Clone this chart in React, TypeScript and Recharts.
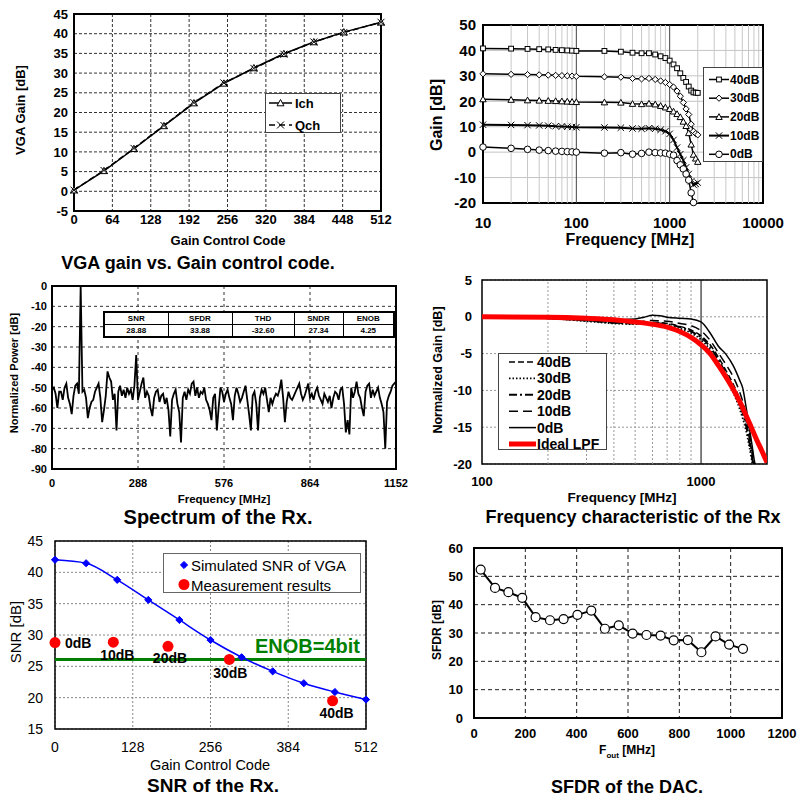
import React from 'react';
import {
  LineChart,
  Line,
  XAxis,
  YAxis,
  CartesianGrid,
  ReferenceLine,
  ReferenceArea,
} from 'recharts';

const FONT = "'Liberation Sans', Arial, Helvetica, sans-serif";

// ---------- VGA gain vs. gain control code ----------
const gainCodes = [0, 50, 100, 150, 200, 250, 300, 350, 400, 450, 512];
const ichGain = [0.3, 5.2, 10.8, 16.6, 22.4, 27.4, 31.3, 34.9, 37.9, 40.4, 42.9];
const qchGain = [0.3, 5.3, 10.9, 16.7, 22.5, 27.5, 31.2, 34.8, 37.9, 40.3, 42.9];
const codeTicks = [0, 64, 128, 192, 256, 320, 384, 448, 512];
const vgaTicks = [-5, 0, 5, 10, 15, 20, 25, 30, 35, 40, 45];

// ---------- VGA frequency response ----------
const vgaFreqs = [10, 20, 30, 40, 50, 60, 70, 80, 90, 100, 200, 300, 400, 500, 600, 700, 800, 900, 1000,
  1100, 1200, 1300, 1400, 1500, 1600, 1700, 1800, 1900, 2000];
const resp40 = [40.8, 40.7, 40.6, 40.5, 40.4, 40.2, 40.1, 40, 39.9, 39.8, 39.8, 39.5, 39.1, 38.9, 38.9, 38.4, 37.7, 37, 36,
  34.5, 33, 31, 29.2, 27.6, 25.8, 24.2, 23.5, 23.4, 23.3];
const resp30 = [30.8, 30.6, 30.5, 30.4, 30.3, 30.2, 30.1, 30, 29.9, 29.8, 29.6, 29.5, 29, 28.8, 29, 28.6, 28, 27.4, 26.6,
  25.6, 24, 22, 19.5, 17, 14.8, 11, 8.2, 7.3, 6.8];
const resp20 = [20.8, 20.6, 20.4, 20.3, 20.2, 20.1, 20, 19.9, 19.8, 19.7, 19.6, 19.5, 19, 18.9, 19.1, 18.8, 18.2, 17.6, 17,
  16, 15, 13.8, 12, 10.3, 7.5, 3, -1, -2.5, -3.8];
const resp10 = [10.8, 10.7, 10.6, 10.5, 10.4, 10.2, 10.1, 10, 9.9, 9.8, 9.7, 9.6, 9.3, 9.2, 9.4, 9.2, 8.8, 8.2, 7.2,
  4.8, 1.8, -0.8, -3.2, -6, -8.6, -11.5, -12.8, -12.5, -12];
const resp0 = [2, 1.5, 1.1, 0.8, 0.6, 0.4, 0.3, 0.2, 0.1, 0, -0.4, -0.2, -0.8, -0.5, 0, -0.2, -0.3, -0.4, -0.8,
  -1.2, -3.3, -5, -6.6, -8.6, -11, -16, -19.8];
const gainTicks = [-20, -10, 0, 10, 20, 30, 40, 50];
const decadeTicks = [10, 100, 1000, 10000];
const minorFreqs = [20, 30, 40, 50, 60, 70, 80, 90, 200, 300, 400, 500, 600, 700, 800, 900,
  2000, 3000, 4000, 5000, 6000, 7000, 8000, 9000];
const majorFreqs = [100, 1000];

// ---------- Spectrum of the Rx (6 MHz bins, 0..1152 MHz) ----------
const binStep = 6;
const spectrum = [
  -51, -50, -53, -60, -52, -52, -56, -50, -48, -55,
  -58, -63, -54, -49, -48, -53, 0, -52, -51, -55,
  -65, -60, -57, -56, -52, -50, -48, -55, -67, -61,
  -54, -42, -45, -47, -56, -53, -71, -52, -49, -54,
  -51, -55, -50, -53, -51, -56, -49, -34, -56, -52,
  -48, -45, -55, -52, -54, -60, -64, -55, -52, -51,
  -57, -54, -53, -58, -55, -61, -74, -56, -53, -51,
  -58, -62, -77, -55, -52, -56, -51, -53, -48, -47,
  -54, -50, -55, -52, -53, -50, -56, -58, -61, -66,
  -55, -53, -71, -60, -50, -52, -57, -53, -51, -55,
  -58, -66, -54, -50, -53, -57, -55, -52, -49, -56,
  -63, -71, -54, -52, -58, -71, -55, -51, -53, -50,
  -56, -62, -55, -58, -55, -53, -54, -51, -46, -55,
  -67, -57, -52, -55, -56, -54, -52, -50, -48, -53,
  -56, -54, -51, -48, -55, -53, -56, -52, -50, -54,
  -56, -58, -53, -55, -57, -54, -60, -55, -52, -53,
  -56, -51, -50, -58, -72, -66, -73, -50, -55, -52,
  -47, -53, -55, -60, -64, -52, -49, -48, -55, -51,
  -54, -52, -50, -55, -58, -62, -80, -57, -54, -52,
  -49, -48, -47,
];
const specTicksX = [0, 288, 576, 864, 1152];
const specTicksY = [-90, -80, -70, -60, -50, -40, -30, -20, -10, 0];
const metricNames = ['SNR', 'SFDR', 'THD', 'SNDR', 'ENOB'];
const metricValues = ['28.88', '33.88', '-32.60', '27.34', '4.25'];

// ---------- Frequency characteristic of the Rx ----------
const lpfFreqs = [100, 200, 300, 400, 500, 600, 700, 800, 900, 1000, 1100, 1200, 1300, 1400, 1500, 1600, 1700, 1800, 1900, 2000];
const idealLpf = [0, -0.05, -0.2, -0.4, -0.7, -1.0, -1.4, -2.0, -2.8, -3.8, -5.0, -6.6, -8.2, -9.8, -11.5, -13.3, -15.1, -16.8, -18.3, -19.8];
const rxFreqs = [100, 200, 300, 400, 500, 550, 600, 650, 700, 800, 900, 1000, 1100, 1200, 1300, 1400, 1500, 1550, 1600, 1650, 1700, 1750, 1800];
const rx40 = [0, -0.2, -0.5, -0.8, -0.9, -0.85, -0.75, -0.8, -0.9, -1.3, -1.8, -2.6, -3.8, -5.5, -7.3, -9.1, -11.2, -12.5, -14, -16, -18.2, -20.5, -23];
const rx30 = [0, -0.2, -0.6, -0.9, -1.0, -1.0, -1.0, -1.1, -1.2, -1.6, -2.2, -3.1, -4.5, -6.3, -8.2, -10.2, -12.5, -13.8, -15.3, -17.2, -19.3, -21.5, -24];
const rx20 = [0, -0.2, -0.5, -0.8, -0.9, -0.9, -0.85, -0.9, -1.0, -1.4, -2.0, -2.8, -4.1, -5.9, -7.7, -9.6, -11.8, -13.1, -14.6, -16.5, -18.7, -21, -23.5];
const rx10 = [0, -0.2, -0.5, -0.7, -0.7, -0.6, -0.5, -0.55, -0.6, -0.9, -1.2, -1.9, -3.2, -4.9, -6.5, -8.1, -10.2, -11.5, -13.2, -15.3, -17.5, -19.8, -22];
const rx0 = [0, -0.15, -0.35, -0.4, -0.3, -0.05, 0.2, 0.15, -0.05, -0.2, -0.3, -0.7, -2.2, -4.0, -5.1, -6.6, -8.6, -9.7, -12, -14.5, -17, -19.5, -21];
const normTicks = [-20, -15, -10, -5, 0, 5];
const rxTicksX = [100, 1000];
const rxMinor = [200, 300, 400, 500, 600, 700, 800, 900];

// ---------- SNR of the Rx ----------
const snrCodes = [0, 51.2, 102.4, 153.6, 204.8, 256, 307.2, 358.4, 409.6, 460.8, 512];
const snrSim = [42.0, 41.45, 38.8, 35.6, 32.4, 29.2, 26.45, 24.2, 22.3, 20.9, 19.7];
const measCodes = [0, 96, 186, 287, 457];
const measSnr = [28.8, 28.85, 28.2, 26.1, 19.5];
const measLabels = ['0dB', '10dB', '20dB', '30dB', '40dB'];
const measLabelOffsets = [[10, 0], [4, 13], [2, 12], [1, 14], [4, 12]];
const measLabelAnchors = ['start', 'middle', 'middle', 'middle', 'middle'];
const enobSnr = 26.1;
const snrTicksY = [15, 20, 25, 30, 35, 40, 45];
const snrTicksX = [0, 128, 256, 384, 512];

// ---------- SFDR of the DAC ----------
const foutFreqs = [26, 82, 134, 188, 240, 296, 349, 403, 457, 510, 564, 618, 672, 727, 778, 833, 886, 941, 994, 1048];
const sfdr = [52.4, 45.9, 44.4, 42.4, 35.6, 34.5, 34.9, 36.4, 37.9, 31.5, 32.7, 29.8, 29.3, 29.1, 27.4, 27.5, 23.2, 28.8, 25.9, 24.4];
const sfdrTicksY = [0, 10, 20, 30, 40, 50, 60];
const sfdrTicksX = [0, 200, 400, 600, 800, 1000, 1200];

const zip = (xs: number[], ys: number[]) => ys.map((y, i) => ({ x: xs[i], y }));

const tk = (size: number, bold = true) => ({
  fontSize: size,
  fontWeight: bold ? 700 : 400,
  fill: '#000',
  fontFamily: FONT,
});

function Mark({ kind, cx, cy, s = 3, fill = '#fff', stroke = '#000', sw = 1 }: any) {
  if (kind === 'square')
    return <rect x={cx - s} y={cy - s} width={2 * s} height={2 * s} fill={fill} stroke={stroke} strokeWidth={sw} />;
  if (kind === 'diamond')
    return (
      <polygon
        points={`${cx},${cy - s * 1.2} ${cx + s * 1.2},${cy} ${cx},${cy + s * 1.2} ${cx - s * 1.2},${cy}`}
        fill={fill}
        stroke={stroke}
        strokeWidth={sw}
      />
    );
  if (kind === 'triangle')
    return (
      <polygon
        points={`${cx},${cy - s} ${cx + s},${cy + s * 0.8} ${cx - s},${cy + s * 0.8}`}
        fill={fill}
        stroke={stroke}
        strokeWidth={sw}
      />
    );
  if (kind === 'cross')
    return (
      <path
        d={`M${cx - s},${cy - s}L${cx + s},${cy + s}M${cx - s},${cy + s}L${cx + s},${cy - s}`}
        stroke={stroke}
        strokeWidth={sw}
        fill="none"
      />
    );
  return <circle cx={cx} cy={cy} r={s} fill={fill} stroke={stroke} strokeWidth={sw} />;
}

const dotOf = (kind: string, s: number, fill = '#fff', stroke = '#000', sw = 1) => (p: any) => {
  if (p.cx == null || p.cy == null) return <g key={p.index} />;
  return (
    <g key={p.index}>
      <Mark kind={kind} cx={p.cx} cy={p.cy} s={s} fill={fill} stroke={stroke} sw={sw} />
    </g>
  );
};

const measDot = (p: any) => {
  if (p.cx == null || p.cy == null) return <g key={p.index} />;
  const [dx, dy] = measLabelOffsets[p.index];
  return (
    <g key={p.index}>
      <circle cx={p.cx} cy={p.cy} r={5.5} fill="#f00" />
      <text
        x={p.cx + dx}
        y={p.cy + dy}
        textAnchor={measLabelAnchors[p.index] as any}
        dominantBaseline="central"
        fontSize={14}
        fontWeight={700}
        fontFamily={FONT}
      >
        {measLabels[p.index]}
      </text>
    </g>
  );
};

function Panel({ x0, y0, x1, y1, yw = 50, xh = 40, mt = 12, mr = 20, children }: any) {
  return (
    <div style={{ position: 'absolute', left: x0 - yw, top: y0 - mt }}>
      <LineChart
        width={x1 - x0 + yw + mr}
        height={y1 - y0 + mt + xh}
        margin={{ top: mt, right: mr, bottom: 0, left: 0 }}
      >
        {children}
      </LineChart>
    </div>
  );
}

function T({ x, y, size, bold = true, rot = false, color = '#000', children }: any) {
  return (
    <div
      style={{
        position: 'absolute',
        left: x,
        top: y,
        transform: `translate(-50%, -50%)${rot ? ' rotate(-90deg)' : ''}`,
        fontSize: size,
        fontWeight: bold ? 700 : 400,
        color,
        whiteSpace: 'nowrap',
        lineHeight: 1,
        fontFamily: FONT,
      }}
    >
      {children}
    </div>
  );
}

function LegendBox({ x, y, w, h, rows, y0, dy, sx0, sx1, tx, size, bold = true, border = '#444' }: any) {
  return (
    <div
      style={{
        position: 'absolute',
        left: x,
        top: y,
        width: w,
        height: h,
        boxSizing: 'border-box',
        border: `1px solid ${border}`,
        background: '#fff',
      }}
    >
      <svg width={w} height={h} style={{ position: 'absolute', left: 0, top: 0 }}>
        {rows.map((r: any, i: number) => (
          <g key={i}>
            {r.line && <line x1={sx0} x2={sx1} y1={y0 + i * dy} y2={y0 + i * dy} {...r.line} />}
            {r.mark && r.mark((sx0 + sx1) / 2, y0 + i * dy)}
          </g>
        ))}
      </svg>
      {rows.map((r: any, i: number) => (
        <div
          key={i}
          style={{
            position: 'absolute',
            left: tx,
            top: y0 + i * dy,
            transform: 'translateY(-50%)',
            fontSize: size,
            fontWeight: bold ? 700 : 400,
            lineHeight: 1,
            whiteSpace: 'nowrap',
            fontFamily: FONT,
          }}
        >
          {r.label}
        </div>
      ))}
    </div>
  );
}

const solid = { stroke: '#000', strokeWidth: 1.5 };

export default function App() {
  const ichData = zip(gainCodes, ichGain);
  const qchData = zip(gainCodes, qchGain);
  const specData = spectrum.map((v, i) => ({ x: i * binStep, y: v }));
  const sfdrData = zip(foutFreqs, sfdr);

  return (
    <div
      style={{
        position: 'absolute',
        left: 0,
        top: 0,
        width: 797,
        height: 798,
        background: '#fff',
        fontFamily: FONT,
        overflow: 'hidden',
      }}
    >
      {/* VGA gain vs code */}
      <Panel x0={74} y0={14} x1={381} y1={211} yw={60}>
        <CartesianGrid stroke="#333" strokeDasharray="3 2" />
        <XAxis dataKey="x" type="number" domain={[0, 512]} ticks={codeTicks} interval={0} tickSize={0}
          tickMargin={4} axisLine={false} tick={tk(13)} height={40} />
        <YAxis type="number" domain={[-5, 45]} ticks={vgaTicks} interval={0} tickSize={0} tickMargin={6}
          axisLine={false} tick={tk(13)} width={60} />
        <ReferenceArea x1={0} x2={512} y1={-5} y2={45} fill="none" stroke="#000" strokeWidth={2} />
        <Line data={ichData} dataKey="y" type="linear" stroke="#000" strokeWidth={1.5}
          dot={dotOf('triangle', 3.5)} activeDot={false} isAnimationActive={false} />
        <Line data={qchData} dataKey="y" type="linear" stroke="#000" strokeWidth={1.5} strokeDasharray="6 3"
          dot={dotOf('cross', 3.5)} activeDot={false} isAnimationActive={false} />
      </Panel>

      {/* VGA frequency response */}
      <Panel x0={483} y0={25} x1={763} y1={203} yw={60} xh={40} mr={25}>
        <CartesianGrid stroke="#c4c4c4" vertical={false} />
        {minorFreqs.map((f) => (
          <ReferenceLine key={'m' + f} x={f} stroke="#c8c8c8" strokeWidth={1} />
        ))}
        {majorFreqs.map((f) => (
          <ReferenceLine key={'M' + f} x={f} stroke="#444" strokeWidth={1} />
        ))}
        <XAxis dataKey="x" type="number" scale="log" domain={[10, 10000]} ticks={decadeTicks} interval={0}
          tickSize={0} tickMargin={14} axisLine={false} tick={tk(15)} height={40} />
        <YAxis type="number" domain={[-20, 50]} ticks={gainTicks} interval={0} tickSize={0} tickMargin={7}
          axisLine={false} tick={tk(15)} width={60} />
        <ReferenceArea x1={10} x2={10000} y1={-20} y2={50} fill="none" stroke="#000" strokeWidth={2} />
        <Line data={zip(vgaFreqs, resp40)} dataKey="y" type="linear" {...solid}
          dot={dotOf('square', 2.4)} activeDot={false} isAnimationActive={false} />
        <Line data={zip(vgaFreqs, resp30)} dataKey="y" type="linear" {...solid}
          dot={dotOf('diamond', 2.6)} activeDot={false} isAnimationActive={false} />
        <Line data={zip(vgaFreqs, resp20)} dataKey="y" type="linear" {...solid}
          dot={dotOf('triangle', 3.2)} activeDot={false} isAnimationActive={false} />
        <Line data={zip(vgaFreqs, resp10)} dataKey="y" type="linear" stroke="#000" strokeWidth={2}
          dot={dotOf('cross', 3.2)} activeDot={false} isAnimationActive={false} />
        <Line data={zip(vgaFreqs, resp0)} dataKey="y" type="linear" {...solid}
          dot={dotOf('circle', 3.3)} activeDot={false} isAnimationActive={false} />
      </Panel>

      {/* Spectrum of the Rx */}
      <Panel x0={52} y0={286} x1={396} y1={469} yw={50} xh={30}>
        <CartesianGrid stroke="#333" strokeDasharray="3 3" />
        <XAxis dataKey="x" type="number" domain={[0, 1152]} ticks={specTicksX} interval={0} tickSize={0}
          tickMargin={10} axisLine={false} tick={tk(11)} height={30} />
        <YAxis type="number" domain={[-90, 0]} ticks={specTicksY} interval={0} tickSize={0} tickMargin={5}
          axisLine={false} tick={tk(11)} width={50} />
        <ReferenceArea x1={0} x2={1152} y1={-90} y2={0} fill="none" stroke="#000" strokeWidth={2} />
        <Line data={specData} dataKey="y" type="linear" stroke="#000" strokeWidth={1.8} dot={false}
          activeDot={false} isAnimationActive={false} />
      </Panel>

      {/* Frequency characteristic of the Rx */}
      <Panel x0={482} y0={280} x1={767} y1={464} yw={60} xh={40}>
        <CartesianGrid stroke="#999" strokeDasharray="2 2" vertical={false} />
        {rxMinor.map((f) => (
          <ReferenceLine key={'r' + f} x={f} stroke="#999" strokeDasharray="2 2" />
        ))}
        <ReferenceLine x={1000} stroke="#000" strokeWidth={1} />
        <XAxis dataKey="x" type="number" scale="log" domain={[100, 2000]} ticks={rxTicksX} interval={0}
          tickSize={0} tickMargin={13} axisLine={false} tick={tk(13)} height={40} allowDataOverflow />
        <YAxis type="number" domain={[-20, 5]} ticks={normTicks} interval={0} tickSize={0} tickMargin={10}
          axisLine={false} tick={tk(13)} width={60} allowDataOverflow />
        <Line data={zip(rxFreqs, rx40)} dataKey="y" type="monotone" stroke="#000" strokeWidth={1.5}
          strokeDasharray="6 3" dot={false} activeDot={false} isAnimationActive={false} />
        <Line data={zip(rxFreqs, rx30)} dataKey="y" type="monotone" stroke="#000" strokeWidth={1.8}
          strokeDasharray="1.5 2" dot={false} activeDot={false} isAnimationActive={false} />
        <Line data={zip(rxFreqs, rx20)} dataKey="y" type="monotone" stroke="#000" strokeWidth={2}
          strokeDasharray="8 3 2 3" dot={false} activeDot={false} isAnimationActive={false} />
        <Line data={zip(rxFreqs, rx10)} dataKey="y" type="monotone" stroke="#000" strokeWidth={1.5}
          strokeDasharray="9 5" dot={false} activeDot={false} isAnimationActive={false} />
        <Line data={zip(rxFreqs, rx0)} dataKey="y" type="monotone" stroke="#000" strokeWidth={1.5}
          dot={false} activeDot={false} isAnimationActive={false} />
        <Line data={zip(lpfFreqs, idealLpf)} dataKey="y" type="monotone" stroke="#f00" strokeWidth={5}
          dot={false} activeDot={false} isAnimationActive={false} />
        <ReferenceArea x1={100} x2={2000} y1={-20} y2={5} fill="none" stroke="#000" strokeWidth={1.5} />
      </Panel>

      {/* SNR of the Rx */}
      <Panel x0={55} y0={541} x1={366} y1={729} yw={50} xh={40}>
        <CartesianGrid stroke="#888" strokeDasharray="2 2" />
        <XAxis dataKey="x" type="number" domain={[0, 512]} ticks={snrTicksX} interval={0} tickSize={0}
          tickMargin={13} axisLine={false} tick={tk(14, false)} height={40} />
        <YAxis type="number" domain={[15, 45]} ticks={snrTicksY} interval={0} tickSize={0} tickMargin={12}
          axisLine={false} tick={tk(14, false)} width={50} />
        <ReferenceArea x1={0} x2={512} y1={15} y2={45} fill="none" stroke="#000" strokeWidth={1.5} />
        <ReferenceLine y={enobSnr} stroke="#008000" strokeWidth={3}
          label={{ value: 'ENOB=4bit', position: 'insideBottomRight', fill: '#008000', fontSize: 20,
            fontWeight: 700, fontFamily: FONT, offset: 6 }} />
        <Line data={zip(snrCodes, snrSim)} dataKey="y" type="monotone" stroke="#0000ff" strokeWidth={1.5}
          dot={dotOf('diamond', 3, '#0000ff', '#0000ff')} activeDot={false} isAnimationActive={false} />
        <Line data={zip(measCodes, measSnr)} dataKey="y" type="linear" stroke="none" dot={measDot}
          activeDot={false} isAnimationActive={false} />
      </Panel>

      {/* SFDR of the DAC */}
      <Panel x0={474} y0={548} x1={782} y1={718} yw={60} xh={40} mr={15}>
        <CartesianGrid stroke="#222" strokeDasharray="4 3" />
        <XAxis dataKey="x" type="number" domain={[0, 1200]} ticks={sfdrTicksX} interval={0} tickSize={0}
          tickMargin={11} axisLine={false} tick={tk(13)} height={40} />
        <YAxis type="number" domain={[0, 60]} ticks={sfdrTicksY} interval={0} tickSize={0} tickMargin={11}
          axisLine={false} tick={tk(13)} width={60} />
        <ReferenceArea x1={0} x2={1200} y1={0} y2={60} fill="none" stroke="#000" strokeWidth={2} />
        <Line data={sfdrData} dataKey="y" type="linear" stroke="#000" strokeWidth={2}
          dot={dotOf('circle', 4.5, '#fff', '#000', 1.2)} activeDot={false} isAnimationActive={false} />
      </Panel>

      {/* Spectrum metrics table */}
      <table
        style={{
          position: 'absolute',
          left: 103,
          top: 311,
          width: 290,
          height: 27,
          borderCollapse: 'collapse',
          border: '2px solid #000',
          background: '#fff',
          fontSize: 8,
          fontWeight: 700,
          textAlign: 'center',
          tableLayout: 'fixed',
          fontFamily: FONT,
        }}
      >
        <colgroup>
          <col style={{ width: 64 }} />
          <col style={{ width: 64 }} />
          <col style={{ width: 62 }} />
          <col style={{ width: 49 }} />
          <col style={{ width: 51 }} />
        </colgroup>
        <tbody>
          <tr>
            {metricNames.map((n) => (
              <td key={n} style={{ border: '1px solid #000', padding: 0, lineHeight: '11px' }}>{n}</td>
            ))}
          </tr>
          <tr>
            {metricValues.map((v) => (
              <td key={v} style={{ border: '1px solid #000', padding: 0, lineHeight: '11px' }}>{v}</td>
            ))}
          </tr>
        </tbody>
      </table>

      {/* Legends */}
      <LegendBox x={265} y={93} w={76} h={40} y0={9} dy={22} sx0={3} sx1={26} tx={29} size={13}
        rows={[
          { label: 'Ich', line: { stroke: '#000', strokeWidth: 1.5 }, mark: (cx: number, cy: number) => <Mark kind="triangle" cx={cx} cy={cy} s={3.5} /> },
          { label: 'Qch', line: { stroke: '#000', strokeWidth: 1.5, strokeDasharray: '6 4' }, mark: (cx: number, cy: number) => <Mark kind="cross" cx={cx} cy={cy} s={3.5} /> },
        ]} />
      <LegendBox x={703} y={67} w={60} h={95} y0={11.5} dy={18.7} sx0={5} sx1={25} tx={26} size={12}
        rows={[
          { label: '40dB', line: solid, mark: (cx: number, cy: number) => <Mark kind="square" cx={cx} cy={cy} s={2.4} /> },
          { label: '30dB', line: solid, mark: (cx: number, cy: number) => <Mark kind="diamond" cx={cx} cy={cy} s={2.6} /> },
          { label: '20dB', line: solid, mark: (cx: number, cy: number) => <Mark kind="triangle" cx={cx} cy={cy} s={3.2} /> },
          { label: '10dB', line: { stroke: '#000', strokeWidth: 2 }, mark: (cx: number, cy: number) => <Mark kind="cross" cx={cx} cy={cy} s={3.2} /> },
          { label: '0dB', line: solid, mark: (cx: number, cy: number) => <Mark kind="circle" cx={cx} cy={cy} s={3.3} /> },
        ]} />
      <LegendBox x={498} y={353} w={109} h={97} y0={8} dy={16.4} sx0={10} sx1={37} tx={38} size={14}
        rows={[
          { label: '40dB', line: { stroke: '#000', strokeWidth: 1.5, strokeDasharray: '6 3' } },
          { label: '30dB', line: { stroke: '#000', strokeWidth: 1.8, strokeDasharray: '1.5 2' } },
          { label: '20dB', line: { stroke: '#000', strokeWidth: 2, strokeDasharray: '8 3 2 3' } },
          { label: '10dB', line: { stroke: '#000', strokeWidth: 1.5, strokeDasharray: '9 5' } },
          { label: '0dB', line: { stroke: '#000', strokeWidth: 1.5 } },
          { label: 'Ideal LPF', line: { stroke: '#f00', strokeWidth: 5 } },
        ]} />
      <LegendBox x={163} y={553} w={198} h={40} y0={11} dy={19.5} sx0={14} sx1={26} tx={27} size={15} bold={false}
        border="#666"
        rows={[
          { label: 'Simulated SNR of VGA', mark: (cx: number, cy: number) => <Mark kind="diamond" cx={cx} cy={cy} s={3} fill="#0000ff" stroke="#0000ff" /> },
          { label: 'Measurement results', mark: (cx: number, cy: number) => <circle cx={cx} cy={cy} r={5.5} fill="#f00" /> },
        ]} />

      {/* Axis titles and captions */}
      <T x={20} y={110} size={13} rot>VGA Gain [dB]</T>
      <T x={228} y={240} size={13}>Gain Control Code</T>
      <T x={198} y={263} size={18}>VGA gain vs. Gain control code.</T>

      <T x={437} y={115} size={16} rot>Gain [dB]</T>
      <T x={630} y={240} size={16}>Frequency [MHz]</T>

      <T x={14} y={373} size={11} rot>Normalized Power [dB]</T>
      <T x={224} y={500} size={11.5}>Frequency [MHz]</T>
      <T x={218} y={517} size={20}>Spectrum of the Rx.</T>

      <T x={438} y={370} size={12.5} rot>Normalized Gain [dB]</T>
      <T x={622} y={498} size={13.5}>Frequency [MHz]</T>
      <T x={633} y={517} size={18}>Frequency characteristic of the Rx</T>

      <T x={15} y={632} size={15} bold={false} rot>SNR [dB]</T>
      <T x={210} y={765} size={14.5} bold={false}>Gain Control Code</T>
      <T x={213} y={785} size={19}>SNR of the Rx.</T>

      <T x={437} y={630} size={12} rot>SFDR [dB]</T>
      <T x={627} y={752} size={12}>
        F<sub style={{ fontSize: 8 }}>out</sub> [MHz]
      </T>
      <T x={627} y={787} size={18}>SFDR of the DAC.</T>
    </div>
  );
}
